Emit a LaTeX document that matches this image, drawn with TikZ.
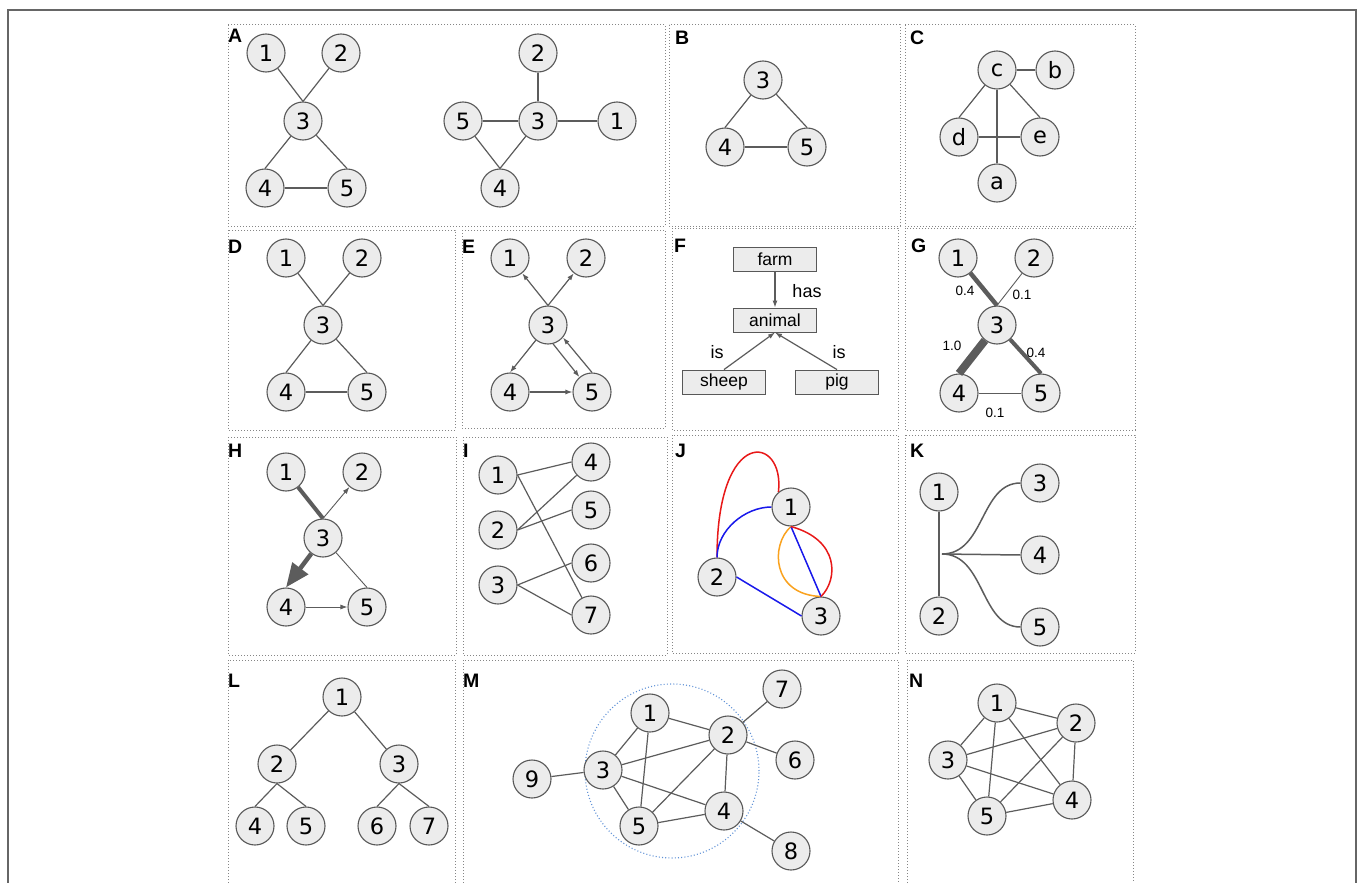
\documentclass[tikz,border=0pt]{standalone}
\usepackage{fontspec}
\setmainfont{DejaVu Sans}
\newfontfamily\arialfont{Liberation Sans}
\usetikzlibrary{arrows.meta}
\definecolor{vfill}{RGB}{236,236,236}
\definecolor{vline}{RGB}{88,88,88}
\definecolor{eline}{RGB}{92,92,92}
\definecolor{ringblue}{RGB}{95,145,215}
\definecolor{jred}{RGB}{232,24,24}
\definecolor{jblue}{RGB}{24,24,235}
\definecolor{jorange}{RGB}{250,162,30}
\tikzset{
  vtx/.style={draw=vline, fill=vfill, circle, line width=1.1pt, minimum size=38pt, inner sep=0pt, font=\fontsize{22.5}{22.5}\selectfont},
  link/.style={draw=eline, line width=1.2pt},
  arr/.style={link, -{Latex[length=7pt,width=5pt]}},
  panel/.style={draw=gray!95, line width=1pt, dash pattern=on 1pt off 2pt},
  tag/.style={anchor=north west, inner sep=0pt, font=\arialfont\bfseries\fontsize{19.5}{19.5}\selectfont},
  box/.style={draw=vline, fill=vfill, line width=0.9pt, minimum width=83pt, minimum height=24pt, inner sep=0pt, font=\arialfont\fontsize{17.5}{17.5}\selectfont},
  rel/.style={inner sep=0pt, font=\arialfont\fontsize{18}{18}\selectfont},
  wt/.style={inner sep=0pt, font=\arialfont\fontsize{13.5}{13.5}\selectfont},
}
\begin{document}
\begin{tikzpicture}[x=1pt,y=-1pt]
  \fill[white] (0,0) rectangle (1358,883);
  \useasboundingbox (0,0) rectangle (1358,883);
  \draw[black!60, line width=1.6pt] (8,883) -- (8,10) -- (1356,10) -- (1356,883);
  % panel frames
  \draw[panel] (228,25) rectangle (665,226);
  \draw[panel] (669,25) rectangle (900,226);
  \draw[panel] (905,25) rectangle (1135,226);
  \draw[panel] (228,230) rectangle (455,430);
  \draw[panel] (462,230) rectangle (665,428);
  \draw[panel] (672,228) rectangle (898,430);
  \draw[panel] (905,228) rectangle (1135,430);
  \draw[panel] (228,437) rectangle (456,655);
  \draw[panel] (463,437) rectangle (667,655);
  \draw[panel] (672,435) rectangle (898,653);
  \draw[panel] (905,435) rectangle (1135,653);
  \draw[panel] (228,883) |- (455,660) -- (455,883);
  \draw[panel] (463,883) |- (898,660) -- (898,883);
  \draw[panel] (907,883) |- (1133,660) -- (1133,883);
  % panel letters
  \node[tag] (tagA) at (228,29) {A};
  \node[tag] (tagB) at (675,31) {B};
  \node[tag] (tagC) at (910,31) {C};
  \node[tag] (tagD) at (228,240) {D};
  \node[tag] (tagE) at (462,240) {E};
  \node[tag] (tagF) at (674,239) {F};
  \node[tag] (tagG) at (911,239) {G};
  \node[tag] (tagH) at (228,444) {H};
  \node[tag] (tagI) at (463,444) {I};
  \node[tag] (tagJ) at (675,444) {J};
  \node[tag] (tagK) at (910,444) {K};
  \node[tag] (tagL) at (228,674) {L};
  \node[tag] (tagM) at (463,674) {M};
  \node[tag] (tagN) at (909,674) {N};

  % A
  \node[vtx] (A1) at (266,53) {1};
  \node[vtx] (A2) at (341,53) {2};
  \node[vtx] (A3) at (303,121) {3};
  \node[vtx] (A4) at (265,188) {4};
  \node[vtx] (A5) at (347,188) {5};
  \draw[link] (A1) -- (A3.north);
  \draw[link] (A2) -- (A3.north);
  \draw[link] (A3) -- (A4.north);
  \draw[link] (A3) -- (A5.north);
  \draw[link] (A4) -- (A5);
  \node[vtx] (Ab2) at (538,53) {2};
  \node[vtx] (Ab3) at (538,121) {3};
  \node[vtx] (Ab1) at (617,121) {1};
  \node[vtx] (Ab5) at (463,121) {5};
  \node[vtx] (Ab4) at (500,188) {4};
  \draw[link] (Ab2) -- (Ab3);
  \draw[link] (Ab3) -- (Ab1);
  \draw[link] (Ab5) -- (Ab3);
  \draw[link] (Ab5) -- (Ab4.north);
  \draw[link] (Ab3) -- (Ab4.north);

  % B
  \node[vtx] (B3) at (763,80) {3};
  \node[vtx] (B4) at (725,147) {4};
  \node[vtx] (B5) at (807,147) {5};
  \draw[link] (B3) -- (B4.north);
  \draw[link] (B3) -- (B5.north);
  \draw[link] (B4) -- (B5);

  % C
  \node[vtx] (Cc) at (997,70) {c};
  \node[vtx] (Cb) at (1055,70) {b};
  \node[vtx] (Cd) at (959,137) {d};
  \node[vtx] (Ce) at (1040,137) {e};
  \node[vtx] (Ca) at (997,183) {a};
  \draw[link] (Cc) -- (Cb);
  \draw[link] (Cc) -- (Cd.north);
  \draw[link] (Cc) -- (Ce.north);
  \draw[link] (Cc) -- (Ca);
  \draw[link] (Cd) -- (Ce);

  % D
  \node[vtx] (D1) at (286,258) {1};
  \node[vtx] (D2) at (362,258) {2};
  \node[vtx] (D3) at (323,325) {3};
  \node[vtx] (D4) at (286,392) {4};
  \node[vtx] (D5) at (367,392) {5};
  \draw[link] (D1) -- (D3.north);
  \draw[link] (D2) -- (D3.north);
  \draw[link] (D3) -- (D4.north);
  \draw[link] (D3) -- (D5.north);
  \draw[link] (D4) -- (D5);

  % E
  \node[vtx] (E1) at (510,258) {1};
  \node[vtx] (E2) at (586,258) {2};
  \node[vtx] (E3) at (548,325) {3};
  \node[vtx] (E4) at (510,392) {4};
  \node[vtx] (E5) at (592,392) {5};
  \draw[arr] (E3.north) -- (E1);
  \draw[arr] (E3.north) -- (E2);
  \draw[arr] (E3) -- (E4.north);
  \draw[arr] (E3.-75) -- (E5.130);
  \draw[arr] (E5.north) -- (E3.-40);
  \draw[arr] (E4) -- (E5);

  % F
  \node[box] (Ffarm) at (775,259) {farm};
  \node[box] (Fanimal) at (775,320) {animal};
  \node[box] (Fsheep) at (724,382) {sheep};
  \node[box] (Fpig) at (837,382) {pig};
  \draw[arr] (Ffarm) -- (Fanimal);
  \draw[arr] (Fsheep.north) -- (Fanimal.south);
  \draw[arr] (Fpig.north) -- (Fanimal.south);
  \node[rel] (Fhas) at (807,291) {has};
  \node[rel] (Fis1) at (717,352) {is};
  \node[rel] (Fis2) at (839,352) {is};

  % G
  \node[vtx] (G1) at (958,258) {1};
  \node[vtx] (G2) at (1034,258) {2};
  \node[vtx] (G3) at (997,325) {3};
  \node[vtx] (G4) at (959,393) {4};
  \node[vtx] (G5) at (1041,393) {5};
  \draw[link, line width=4.5pt] (G1) -- (G3.north);
  \draw[link, line width=0.9pt] (G2) -- (G3.north);
  \draw[link, line width=8pt] (G3) -- (G4.north);
  \draw[link, line width=4pt] (G3) -- (G5.north);
  \draw[link, line width=0.9pt] (G4) -- (G5);
  \node[wt] (w13) at (965,291) {0.4};
  \node[wt] (w23) at (1022,295) {0.1};
  \node[wt] (w34) at (952,346) {1.0};
  \node[wt] (w35) at (1036,353) {0.4};
  \node[wt] (w45) at (995,413) {0.1};

  % H
  \node[vtx] (H1) at (286,472) {1};
  \node[vtx] (H2) at (362,472) {2};
  \node[vtx] (H3) at (323,538) {3};
  \node[vtx] (H4) at (286,607) {4};
  \node[vtx] (H5) at (367,607) {5};
  \draw[link, line width=4pt] (H1) -- (H3.north);
  \draw[arr, line width=0.9pt] (H3.north) -- (H2);
  \draw[link, line width=4.5pt, -{Triangle[length=24pt,width=19pt]}] (H3) -- (H4.north);
  \draw[link, line width=0.9pt] (H3) -- (H5.north);
  \draw[arr, line width=0.9pt] (H4) -- (H5);

  % I
  \node[vtx] (I1) at (498,475) {1};
  \node[vtx] (I2) at (498,530) {2};
  \node[vtx] (I3) at (498,585) {3};
  \node[vtx] (I4) at (591,462) {4};
  \node[vtx] (I5) at (591,510) {5};
  \node[vtx] (I6) at (591,563) {6};
  \node[vtx] (I7) at (591,615) {7};
  \draw[link] (I1.east) -- (I4.west);
  \draw[link] (I1.east) -- (I7);
  \draw[link] (I2.east) -- (I4);
  \draw[link] (I2.east) -- (I5.west);
  \draw[link] (I3.east) -- (I6.west);
  \draw[link] (I3.east) -- (I7.west);

  % J
  \node[vtx] (J1) at (791,507) {1};
  \node[vtx] (J2) at (717,577) {2};
  \node[vtx] (J3) at (821,616) {3};
  \draw[jred, line width=1.5pt] (J2.north) .. controls (717,425) and (785,435) .. (J1.130);
  \draw[jblue, line width=1.5pt] (J2.north) .. controls (717,530) and (745,507) .. (J1.west);
  \draw[jblue, line width=1.5pt] (J2.east) -- (J3.west);
  \draw[jorange, line width=1.5pt] (J1.south) .. controls (770,545) and (772,595) .. (J3.north);
  \draw[jblue, line width=1.5pt] (J1.south) -- (J3.north);
  \draw[jred, line width=1.5pt] (J1.south) .. controls (840,540) and (838,580) .. (J3.north);

  % K
  \node[vtx] (K1) at (939,492) {1};
  \node[vtx] (K2) at (939,616) {2};
  \node[vtx] (K3) at (1040,483) {3};
  \node[vtx] (K4) at (1040,555) {4};
  \node[vtx] (K5) at (1040,627) {5};
  \coordinate (Kj) at (942,554);
  \draw[link, line width=1.5pt] (K1) -- (K2);
  \draw[link, line width=1.5pt] (Kj) .. controls (985,554) and (980,483) .. (K3.west);
  \draw[link, line width=1.5pt] (Kj) -- (K4.west);
  \draw[link, line width=1.5pt] (Kj) .. controls (985,554) and (980,627) .. (K5.west);

  % L
  \node[vtx] (L1) at (342,697) {1};
  \node[vtx] (L2) at (277,764) {2};
  \node[vtx] (L3) at (399,764) {3};
  \node[vtx] (L4) at (255,826) {4};
  \node[vtx] (L5) at (306,826) {5};
  \node[vtx] (L6) at (377,826) {6};
  \node[vtx] (L7) at (429,826) {7};
  \draw[link] (L1) -- (L2);
  \draw[link] (L1) -- (L3);
  \draw[link] (L2.south) -- (L4.north);
  \draw[link] (L2.south) -- (L5.north);
  \draw[link] (L3.south) -- (L6.north);
  \draw[link] (L3.south) -- (L7.north);

  % M
  \draw[ringblue, line width=1.1pt, dash pattern=on 1pt off 2.2pt] (672,771) circle[radius=87pt];
  \node[vtx] (M1) at (650,713) {1};
  \node[vtx] (M2) at (728,735) {2};
  \node[vtx] (M3) at (603,770) {3};
  \node[vtx] (M4) at (724,811) {4};
  \node[vtx] (M5) at (639,826) {5};
  \node[vtx] (M6) at (795,760) {6};
  \node[vtx] (M7) at (782,689) {7};
  \node[vtx] (M8) at (791,851) {8};
  \node[vtx] (M9) at (532,779) {9};
  \draw[link] (M9) -- (M3);
  \draw[link] (M3) -- (M1);
  \draw[link] (M3) -- (M2);
  \draw[link] (M3) -- (M5);
  \draw[link] (M3) -- (M4);
  \draw[link] (M1) -- (M5);
  \draw[link] (M1) -- (M2);
  \draw[link] (M2) -- (M5);
  \draw[link] (M2) -- (M4);
  \draw[link] (M5) -- (M4);
  \draw[link] (M2) -- (M7);
  \draw[link] (M2) -- (M6);
  \draw[link] (M4) -- (M8);

  % N
  \node[vtx] (N1) at (997,703) {1};
  \node[vtx] (N2) at (1076,723) {2};
  \node[vtx] (N3) at (948,760) {3};
  \node[vtx] (N4) at (1072,800) {4};
  \node[vtx] (N5) at (987,816) {5};
  \draw[link] (N1) -- (N2);
  \draw[link] (N1) -- (N3);
  \draw[link] (N1) -- (N4);
  \draw[link] (N1) -- (N5);
  \draw[link] (N2) -- (N3);
  \draw[link] (N2) -- (N4);
  \draw[link] (N2) -- (N5);
  \draw[link] (N3) -- (N4);
  \draw[link] (N3) -- (N5);
  \draw[link] (N4) -- (N5);
\end{tikzpicture}
\end{document}
